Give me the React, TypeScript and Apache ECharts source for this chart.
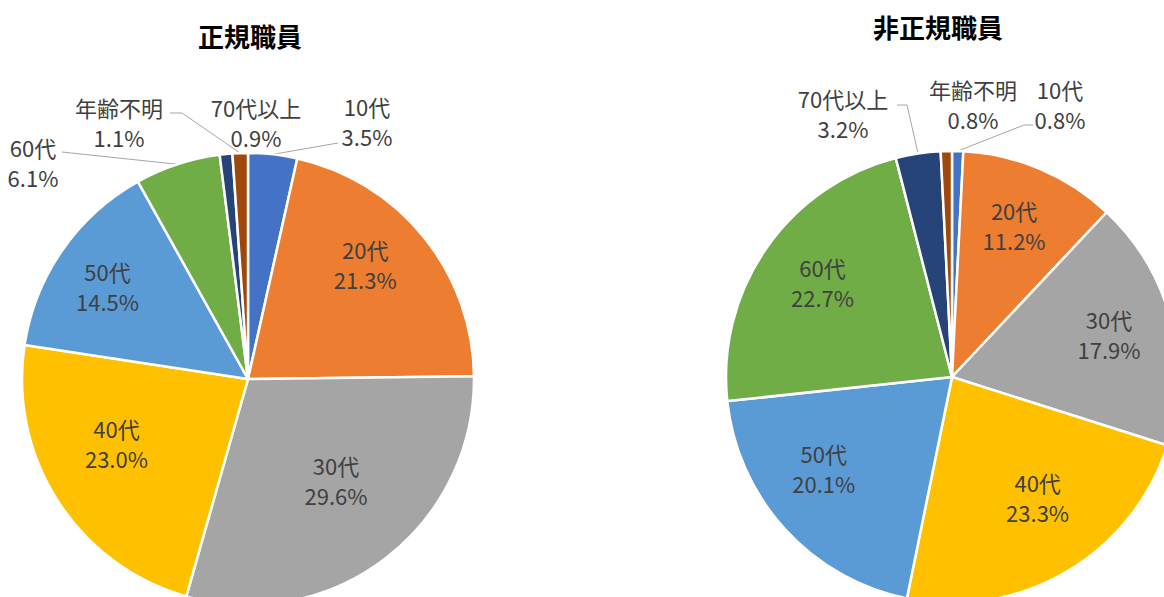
import React, { useEffect, useRef } from 'react';
import * as echarts from 'echarts';

// ---- data ----
const categories = ['10代', '20代', '30代', '40代', '50代', '60代', '70代以上', '年齢不明'];
const regularShares = [3.5, 21.3, 29.6, 23.0, 14.5, 6.1, 0.9, 1.1];
const nonRegularShares = [0.8, 11.2, 17.9, 23.3, 20.1, 22.7, 3.2, 0.8];
const chartTitles = ['正規職員', '非正規職員'];

// ---- styling / layout ----
const sliceColors = ['#4472C4', '#ED7D31', '#A5A5A5', '#FFC000', '#5B9BD5', '#70AD47', '#264478', '#9E480E'];
const FONT = "'Noto Sans CJK JP', 'Noto Sans', sans-serif";
const LABEL_COLOR = '#404040';

type Spot = { x: number; y: number; tail?: number[][] };
type PieLayout = {
  center: number[];
  radius: number;
  title: number[];
  outer: Record<string, Spot>;
  nudge: Record<string, number[]>;
};

const pieLayouts: PieLayout[] = [
  {
    center: [248, 379],
    radius: 226,
    title: [250, 35],
    outer: {
      '10代': { x: 367, y: 121, tail: [[338, 143]] },
      '70代以上': { x: 256, y: 122 },
      '年齢不明': { x: 119, y: 122, tail: [[182, 113], [170, 113]] },
      '60代': { x: 33, y: 162, tail: [[62, 152]] },
    },
    nudge: {
      '20代': [-8, -13],
      '30代': [-10, -27],
      '40代': [4, -23],
      '50代': [-8, -1],
    },
  },
  {
    center: [952, 377],
    radius: 226,
    title: [938, 26],
    outer: {
      '10代': { x: 1060, y: 104, tail: [[1024, 125], [1033, 125]] },
      '年齢不明': { x: 973, y: 104 },
      '70代以上': { x: 843, y: 113, tail: [[907, 105], [897, 105]] },
    },
    nudge: {
      '20代': [-1, -4],
      '30代': [1, -2],
      '40代': [4, -19],
      '50代': [-9, -17],
      '60代': [3, -3],
    },
  },
];

const labelText = {
  fontFamily: FONT,
  fontSize: 22,
  lineHeight: 30,
  color: LABEL_COLOR,
};

function fmt(p: any) {
  return `${p.name}\n${Number(p.value).toFixed(1)}%`;
}

function buildSeries(values: number[], layout: PieLayout) {
  const { center, radius, outer, nudge } = layout;
  const total = values.reduce((a, b) => a + b, 0);
  const cum: number[] = [];
  let acc = 0;
  values.forEach((v) => {
    cum.push(acc + v / 2);
    acc += v;
  });

  const mainData = values.map((v, i) => {
    const name = categories[i];
    const spot = outer[name];
    return {
      name,
      value: v,
      itemStyle: { color: sliceColors[i] },
      label: spot
        ? { show: true, position: 'outside', formatter: fmt, ...labelText }
        : { show: false },
      labelLine: spot && spot.tail
        ? { show: true, length: 10, length2: 10, lineStyle: { color: '#A6A6A6', width: 1 } }
        : { show: false },
    };
  });

  const overlayData = values.map((v, i) => {
    const name = categories[i];
    const isOuter = !!outer[name];
    return {
      name,
      value: v,
      itemStyle: { color: 'rgba(0,0,0,0)', borderWidth: 0 },
      label: isOuter
        ? { show: false }
        : { show: true, position: 'inside', formatter: fmt, ...labelText },
    };
  });

  const main = {
    type: 'pie',
    center,
    radius: [0, radius],
    startAngle: 90,
    clockwise: true,
    avoidLabelOverlap: false,
    itemStyle: { borderColor: '#ffffff', borderWidth: 2.5 },
    emphasis: { disabled: true },
    data: mainData,
    labelLayout: (params: any) => {
      const name = categories[params.dataIndex];
      const spot = outer[name];
      if (!spot) return {};
      const res: any = { x: spot.x, y: spot.y, align: 'center', verticalAlign: 'middle' };
      if (spot.tail) {
        let start: number[];
        if (params.labelLinePoints && params.labelLinePoints[0]) {
          start = params.labelLinePoints[0];
        } else {
          const ang = (cum[params.dataIndex] / total) * Math.PI * 2;
          start = [center[0] + radius * Math.sin(ang), center[1] - radius * Math.cos(ang)];
        }
        res.labelLinePoints = [start, ...spot.tail];
      }
      return res;
    },
  };

  const overlay = {
    type: 'pie',
    center,
    radius: [radius * 0.4, radius],
    startAngle: 90,
    clockwise: true,
    silent: true,
    avoidLabelOverlap: false,
    labelLine: { show: false },
    emphasis: { disabled: true },
    data: overlayData,
    labelLayout: (params: any) => {
      const n = nudge[categories[params.dataIndex]];
      if (!n) return {};
      return { dx: n[0], dy: n[1] };
    },
  };

  return [main, overlay];
}

export default function App() {
  const ref = useRef<HTMLDivElement>(null);

  useEffect(() => {
    if (!ref.current) return;
    const chart = echarts.init(ref.current, undefined, { renderer: 'svg' });
    const series = [
      ...buildSeries(regularShares, pieLayouts[0]),
      ...buildSeries(nonRegularShares, pieLayouts[1]),
    ];
    chart.setOption({
      animation: false,
      backgroundColor: '#ffffff',
      series,
      graphic: chartTitles.map((t, i) => ({
        type: 'text',
        x: pieLayouts[i].title[0],
        y: pieLayouts[i].title[1],
        style: {
          text: t,
          fontFamily: FONT,
          fontSize: 26,
          fontWeight: 'bold',
          fill: '#000000',
          textAlign: 'center',
          textVerticalAlign: 'middle',
        },
      })),
    });
    return () => chart.dispose();
  }, []);

  return (
    <div
      ref={ref}
      style={{ position: 'absolute', left: 0, top: 0, width: 1164, height: 597 }}
    />
  );
}
